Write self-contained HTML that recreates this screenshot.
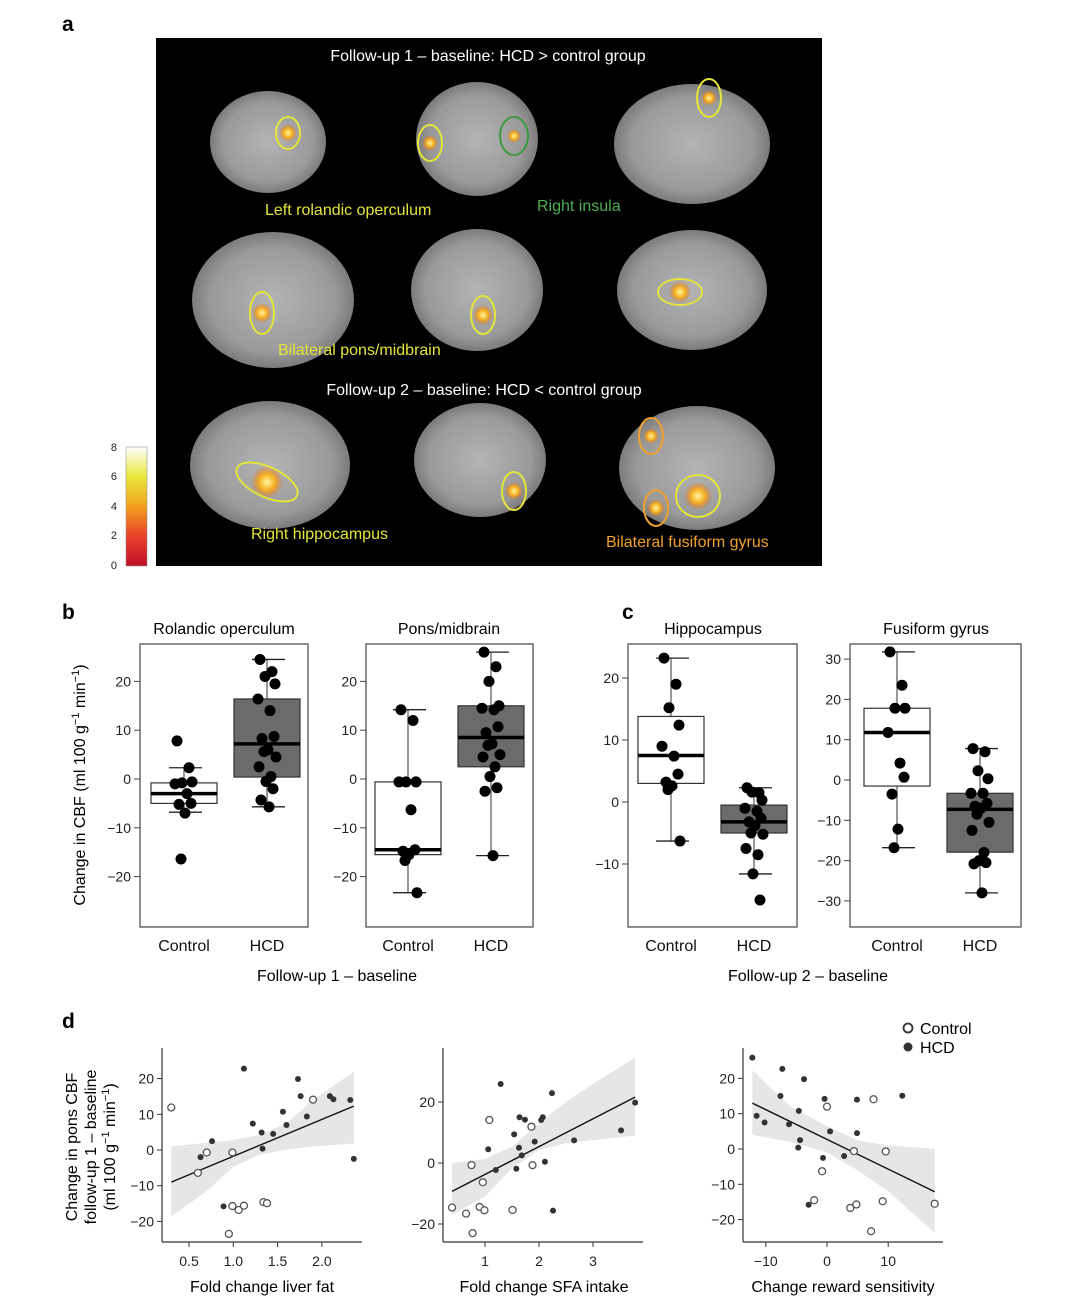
<!DOCTYPE html>
<html><head><meta charset="utf-8">
<style>
body{margin:0;background:#fff;}
svg{display:block;font-family:"Liberation Sans",Arial,sans-serif;}
</style></head>
<body>
<svg id="fig" width="1080" height="1310" viewBox="0 0 1080 1310" xmlns="http://www.w3.org/2000/svg">
<defs>
<radialGradient id="brainG" cx="50%" cy="50%" r="55%">
<stop offset="0" stop-color="#b4b4b4"/><stop offset="0.7" stop-color="#9a9a9a"/><stop offset="1" stop-color="#6e6e6e"/>
</radialGradient>
<radialGradient id="blob" cx="50%" cy="50%" r="50%">
<stop offset="0" stop-color="#fff6a0"/><stop offset="0.5" stop-color="#f6b020"/><stop offset="1" stop-color="#e86a10" stop-opacity="0"/>
</radialGradient>
<linearGradient id="cbar" x1="0" y1="0" x2="0" y2="1">
<stop offset="0" stop-color="#ffffff"/><stop offset="0.25" stop-color="#e8e83a"/><stop offset="0.5" stop-color="#f3a020"/><stop offset="0.75" stop-color="#e8402a"/><stop offset="1" stop-color="#c0102a"/>
</linearGradient>
</defs>

<!-- panel labels -->
<text x="62" y="31" font-size="21" font-weight="bold">a</text>
<text x="62" y="619" font-size="21" font-weight="bold">b</text>
<text x="622" y="619" font-size="21" font-weight="bold">c</text>
<text x="62" y="1028" font-size="21" font-weight="bold">d</text>

<!-- panel a -->
<g>
<rect x="156" y="38" width="666" height="528" fill="#000"/>
<g fill="url(#brainG)">
<ellipse cx="268" cy="142" rx="58" ry="51"/>
<ellipse cx="477" cy="139" rx="61" ry="57"/>
<ellipse cx="692" cy="144" rx="78" ry="60"/>
<ellipse cx="273" cy="300" rx="81" ry="68"/>
<ellipse cx="477" cy="290" rx="66" ry="61"/>
<ellipse cx="692" cy="290" rx="75" ry="60"/>
<ellipse cx="270" cy="465" rx="80" ry="64"/>
<ellipse cx="480" cy="460" rx="66" ry="57"/>
<ellipse cx="697" cy="468" rx="78" ry="62"/>
</g>
<g fill="url(#blob)">
<circle cx="288" cy="133" r="9"/><circle cx="430" cy="143" r="8"/><circle cx="514" cy="136" r="7"/>
<circle cx="709" cy="98" r="8"/><circle cx="262" cy="313" r="10"/><circle cx="483" cy="315" r="10"/>
<circle cx="680" cy="292" r="11"/><circle cx="267" cy="482" r="16"/><circle cx="514" cy="491" r="9"/>
<circle cx="651" cy="436" r="8"/><circle cx="656" cy="508" r="9"/><circle cx="698" cy="496" r="14"/>
</g>
<g fill="none" stroke-width="2">
<ellipse cx="288" cy="133" rx="12" ry="16" stroke="#e4e43c"/>
<ellipse cx="430" cy="143" rx="12" ry="18" stroke="#e4e43c"/>
<ellipse cx="514" cy="136" rx="14" ry="19" stroke="#3c9a3c"/>
<ellipse cx="709" cy="98" rx="12" ry="19" stroke="#e4e43c"/>
<ellipse cx="262" cy="313" rx="12" ry="21" stroke="#e4e43c"/>
<ellipse cx="483" cy="315" rx="12" ry="19" stroke="#e4e43c"/>
<ellipse cx="680" cy="292" rx="22" ry="13" stroke="#e4e43c"/>
<ellipse cx="267" cy="482" rx="33" ry="15" transform="rotate(25 267 482)" stroke="#e4e43c"/>
<ellipse cx="514" cy="491" rx="12" ry="19" stroke="#e4e43c"/>
<ellipse cx="651" cy="436" rx="12" ry="18" stroke="#f0a030"/>
<ellipse cx="656" cy="508" rx="12" ry="18" stroke="#f0a030"/>
<ellipse cx="698" cy="496" rx="22" ry="21" stroke="#e4e43c"/>
</g>
<text x="488" y="61" font-size="16" fill="#fff" text-anchor="middle">Follow-up 1 – baseline: HCD &gt; control group</text>
<text x="265" y="215" font-size="16" fill="#e4e43c">Left rolandic operculum</text>
<text x="537" y="211" font-size="16" fill="#4caf50">Right insula</text>
<text x="278" y="355" font-size="16" fill="#e4e43c">Bilateral pons/midbrain</text>
<text x="484" y="395" font-size="16" fill="#fff" text-anchor="middle">Follow-up 2 – baseline: HCD &lt; control group</text>
<text x="251" y="539" font-size="16" fill="#e4e43c">Right hippocampus</text>
<text x="606" y="547" font-size="16" fill="#f0a030">Bilateral fusiform gyrus</text>
</g>
<g>
<rect x="126" y="447" width="21" height="119" fill="url(#cbar)" stroke="#888" stroke-width="0.5"/>
<g font-size="11" fill="#222" text-anchor="end">
<text x="117" y="451">8</text><text x="117" y="480">6</text><text x="117" y="510">4</text><text x="117" y="539">2</text><text x="117" y="569">0</text>
</g>
</g>

<g id="boxes"></g>
<g id="scatters"></g>

<!-- text labels for b/c -->
<text x="224" y="634" font-size="16" text-anchor="middle">Rolandic operculum</text>
<text x="449" y="634" font-size="16" text-anchor="middle">Pons/midbrain</text>
<text x="713" y="634" font-size="16" text-anchor="middle">Hippocampus</text>
<text x="936" y="634" font-size="16" text-anchor="middle">Fusiform gyrus</text>
<text transform="translate(85 785) rotate(-90)" font-size="16" text-anchor="middle">Change in CBF (ml 100 g<tspan font-size="11" dy="-6">−1</tspan><tspan dy="6"> min</tspan><tspan font-size="11" dy="-6">−1</tspan><tspan dy="6">)</tspan></text>
<text x="337" y="981" font-size="16" text-anchor="middle">Follow-up 1 – baseline</text>
<text x="808" y="981" font-size="16" text-anchor="middle">Follow-up 2 – baseline</text>

<!-- panel d labels -->
<g font-size="16" text-anchor="middle">
<text transform="translate(77 1147) rotate(-90)">Change in pons CBF</text>
<text transform="translate(96 1147) rotate(-90)">follow-up 1 – baseline</text>
<text transform="translate(115 1147) rotate(-90)">(ml 100 g<tspan font-size="11" dy="-6">−1</tspan><tspan dy="6"> min</tspan><tspan font-size="11" dy="-6">−1</tspan><tspan dy="6">)</tspan></text>
</g>
<text x="262" y="1292" font-size="16" text-anchor="middle">Fold change liver fat</text>
<text x="544" y="1292" font-size="16" text-anchor="middle">Fold change SFA intake</text>
<text x="843" y="1292" font-size="16" text-anchor="middle">Change reward sensitivity</text>
<g>
<circle cx="908" cy="1028" r="4.5" fill="#fff" stroke="#333" stroke-width="1.8"/>
<text x="920" y="1034" font-size="16">Control</text>
<circle cx="908" cy="1047" r="4.5" fill="#333"/>
<text x="920" y="1053" font-size="16">HCD</text>
</g>
</svg>

<script>
// ---------- box plot data ----------
const boxCategories = ["Control", "HCD"];
const rolCtrlPts = [7.8, 2.3, -0.8, -0.6, -1.0, -3.0, -5.0, -5.2, -7.0, -16.4];
const rolHcdPts = [24.5, 22, 21, 19.5, 16.4, 14, 8.7, 8.3, 6, 5.6, 4.5, 2.5, 0.5, -0.5, -2, -4.3, -5.7];
const rolCtrlStats = [-6.8, -5.0, -3.0, -0.8, 2.3];
const rolHcdStats = [-5.7, 0.4, 7.2, 16.4, 24.5];
const ponsCtrlPts = [14.2, 12, -0.6, -0.6, -0.6, -6.3, -14.5, -14.8, -15.5, -16.7, -23.3];
const ponsHcdPts = [26, 23, 20, 15, 14.5, 14.2, 10.7, 9.5, 7.2, 6.9, 5, 4.5, 2.5, 0.5, -1.8, -2.5, -15.7];
const ponsCtrlStats = [-23.3, -15.5, -14.5, -0.6, 14.2];
const ponsHcdStats = [-15.7, 2.5, 8.5, 15, 26];
const hipCtrlPts = [23.2, 19, 15.2, 12.4, 9, 7.4, 4.5, 3.2, 2.6, 2, -6.3];
const hipHcdPts = [2.3, 1.5, 1.6, 0.3, -1, -1.5, -2.6, -3.2, -3.8, -5, -5.2, -7.5, -8.5, -11.6, -15.8];
const hipCtrlStats = [-6.3, 3.0, 7.5, 13.8, 23.2];
const hipHcdStats = [-11.6, -5.0, -3.2, -0.5, 2.3];
const fusCtrlPts = [31.8, 23.5, 17.8, 17.8, 11.8, 4.2, 0.7, -3.5, -12.2, -16.8];
const fusHcdPts = [7.8, 7, 2.3, 0.3, -3.3, -3.3, -5.8, -6.5, -7, -8.5, -10.5, -12.5, -18, -20, -20.5, -20.8, -28];
const fusCtrlStats = [-16.8, -1.5, 11.8, 17.8, 31.8];
const fusHcdStats = [-28, -17.9, -7.3, -3.3, 7.8];
const ticksB = [-20, -10, 0, 10, 20];
const ticksHip = [-10, 0, 10, 20];
const ticksFus = [-30, -20, -10, 0, 10, 20, 30];

// ---------- scatter data ----------
const liverX = [0.30,0.63,0.70,0.76,0.60,0.99,1.12,1.22,1.32,1.33,1.45,1.56,1.60,1.73,1.76,1.83,1.90,2.09,2.13,2.32,2.36,0.89,0.99,1.06,1.12,1.34,1.38,0.95];
const liverY = [11.9,-2,-0.7,2.5,-6.4,-0.7,22.8,7.4,4.9,0.4,4.5,10.7,7,19.9,15.1,9.4,14.1,15.1,14.2,14,-2.5,-15.8,-15.7,-16.8,-15.6,-14.6,-14.9,-23.5];
const liverGrp = [0,1,0,1,0,0,1,1,1,1,1,1,1,1,1,1,0,1,1,1,1,1,0,0,0,0,0,0];
const liverFit = [0.30, -9, 2.36, 12.3];
const liverBandX = [0.30, 0.7, 1.0, 1.3, 1.6, 1.9, 2.36];
const liverBandLo = [-18.6, -11.5, -4.7, -1.3, 0.1, 1.0, 1.8];
const liverBandHi = [1.0, 2.0, 2.8, 4.2, 7.5, 14, 21.9];

const sfaX = [0.39,0.65,0.77,0.90,0.99,0.75,0.96,1.08,1.06,1.20,1.29,1.54,1.58,1.63,1.64,1.74,1.68,1.51,1.86,1.88,1.92,2.04,2.07,2.11,2.24,2.26,2.65,3.52,3.78];
const sfaY = [-14.6,-16.6,-23,-14.4,-15.5,-0.7,-6.3,14.1,4.5,-2.3,25.9,9.4,-1.9,5,15,14.2,2.5,-15.4,11.9,-0.7,7,14.1,15,0.4,22.9,-15.6,7.4,10.7,19.8];
const sfaGrp = [0,0,0,0,0,0,0,0,1,1,1,1,1,1,1,1,1,0,0,0,1,1,1,1,1,1,1,1,1];
const sfaFit = [0.39, -9.3, 3.78, 21.6];
const sfaBandX = [0.39, 1.0, 1.5, 2.0, 2.5, 3.0, 3.78];
const sfaBandLo = [-17, -11, -1.7, 4.3, 6.5, 7.5, 9];
const sfaBandHi = [0, 1.3, 5.3, 13, 20, 26, 34.5];

const rewX = [-12.2,-11.5,-10.2,-7.3,-7.6,-6.2,-3.75,-4.6,-4.4,-4.7,-0.65,-0.4,0,0.5,-0.8,2.8,4.4,4.9,4.9,7.6,12.3,9.6,-3.0,-2.1,3.8,4.8,9.1,7.2,17.6];
const rewY = [25.9,9.4,7.5,22.7,15,7,19.8,10.8,2.5,0.4,-2.5,14.2,12,5,-6.3,-2,-0.6,14,4.5,14.1,15.1,-0.7,-15.8,-14.5,-16.7,-15.7,-14.8,-23.3,-15.5];
const rewGrp = [1,1,1,1,1,1,1,1,1,1,1,1,0,1,0,1,0,1,1,0,1,0,1,0,0,0,0,0,0];
const rewFit = [-12.2, 13, 17.6, -12.1];
const rewBandX = [-12.2, -6, 0, 5, 10, 17.6];
const rewBandLo = [4, 2, -1, -6, -12, -23.7];
const rewBandHi = [22.3, 12, 6.5, 2.5, 1, 0];

const liverTicksX = [0.5, 1.0, 1.5, 2.0];
const liverTickLbl = ["0.5", "1.0", "1.5", "2.0"];
const sfaTicksX = [1, 2, 3];
const rewTicksX = [-10, 0, 10];
const ticksD = [-20, -10, 0, 10, 20];
const ticksD2 = [-20, 0, 20];

// ---------- helpers ----------
const NS = "http://www.w3.org/2000/svg";
function mk(tag, attrs, parent) {
  const el = document.createElementNS(NS, tag);
  for (const k in attrs) el.setAttribute(k, attrs[k]);
  parent.appendChild(el);
  return el;
}
const jit = [-7, 5, -2, 8, -9, 3, 7, -5, 1, -3, 9, -8, 4, -1, 6, -6, 2];

function boxPanel(name, fr, zeroY, pxPerUnit, ticks, ctrlStats, ctrlPts, hcdStats, hcdPts, cx) {
  const g = mk("g", {}, document.getElementById("boxes"));
  
  
  const y = v => zeroY - v * pxPerUnit;
  const frame = mk("rect", {x: fr[0], y: fr[1], width: fr[2] - fr[0], height: fr[3] - fr[1], fill: "none", stroke: "#444", "stroke-width": 1.2}, g);
  
  
  ticks.forEach(t => {
    mk("line", {x1: fr[0] - 6, x2: fr[0], y1: y(t), y2: y(t), stroke: "#444"}, g);
    const tx = mk("text", {x: fr[0] - 9, y: y(t) + 5, "font-size": 14, "text-anchor": "end", fill: "#222"}, g);
    tx.textContent = t === 0 ? "0" : (t < 0 ? "−" + Math.abs(t) : String(t));
    
    
  });
  [[ctrlStats, ctrlPts, "#fff"], [hcdStats, hcdPts, "#6b6b6b"]].forEach((d, i) => {
    const c = cx[i], s = d[0];
    const wl = mk("line", {x1: c, x2: c, y1: y(s[0]), y2: y(s[4]), stroke: "#555", "stroke-width": 1.2}, g);
    
    
    mk("line", {x1: c - 15, x2: c + 18, y1: y(s[0]), y2: y(s[0]), stroke: "#222", "stroke-width": 1.3}, g);
    mk("line", {x1: c - 15, x2: c + 18, y1: y(s[4]), y2: y(s[4]), stroke: "#222", "stroke-width": 1.3}, g);
    const b = mk("rect", {x: c - 33, y: y(s[3]), width: 66, height: y(s[1]) - y(s[3]), fill: d[2], stroke: "#333", "stroke-width": 1.2}, g);
    
    
    const m = mk("line", {x1: c - 33, x2: c + 33, y1: y(s[2]), y2: y(s[2]), stroke: "#000", "stroke-width": 3.5}, g);
    
    
    d[1].forEach((v, k) => {
      const p = mk("circle", {cx: c + jit[k % jit.length], cy: y(v), r: 5.5, fill: "#000"}, g);
      
      
    });
    const lab = mk("text", {x: c, y: 951, "font-size": 16, "text-anchor": "middle", fill: "#111"}, g);
    lab.textContent = boxCategories[i];
    
    
  });
}

boxPanel("box-rolandic", [140, 644, 308, 927], 779, 4.88, ticksB, rolCtrlStats, rolCtrlPts, rolHcdStats, rolHcdPts, [184, 267]);
boxPanel("box-pons", [366, 644, 533, 927], 779, 4.88, ticksB, ponsCtrlStats, ponsCtrlPts, ponsHcdStats, ponsHcdPts, [408, 491]);
boxPanel("box-hippocampus", [628, 644, 797, 927], 802, 6.2, ticksHip, hipCtrlStats, hipCtrlPts, hipHcdStats, hipHcdPts, [671, 754]);
boxPanel("box-fusiform", [850, 644, 1021, 927], 780, 4.03, ticksFus, fusCtrlStats, fusCtrlPts, fusHcdStats, fusHcdPts, [897, 980]);

function scatter(name, ax, xs, ys, grp, fit, bx, blo, bhi, xt, xtl, yt) {
  const g = mk("g", {}, document.getElementById("scatters"));
  
  
  const X = v => ax.x0 + (v - ax.v0) * ax.kx;
  const Y = v => ax.y0 - v * ax.ky;
  let d = "";
  bx.forEach((v, i) => { d += (i ? "L" : "M") + X(v).toFixed(1) + " " + Y(bhi[i]).toFixed(1); });
  for (let i = bx.length - 1; i >= 0; i--) d += "L" + X(bx[i]).toFixed(1) + " " + Y(blo[i]).toFixed(1);
  const band = mk("path", {d: d + "Z", fill: "#e6e6e6"}, g);
  
  
  const fl = mk("line", {x1: X(fit[0]), y1: Y(fit[1]), x2: X(fit[2]), y2: Y(fit[3]), stroke: "#111", "stroke-width": 1.4}, g);
  
  
  xs.forEach((v, i) => {
    const p = grp[i]
      ? mk("circle", {cx: X(v), cy: Y(ys[i]), r: 3, fill: "#333"}, g)
      : mk("circle", {cx: X(v), cy: Y(ys[i]), r: 3.5, fill: "#fff", stroke: "#555", "stroke-width": 1.3}, g);
    
    
  });
  const ya = mk("line", {x1: ax.left, x2: ax.left, y1: 1048, y2: 1242, stroke: "#333", "stroke-width": 1.2}, g);
  
  
  const xa = mk("line", {x1: ax.left, x2: ax.right, y1: 1242, y2: 1242, stroke: "#333", "stroke-width": 1.2}, g);
  
  
  yt.forEach(t => {
    mk("line", {x1: ax.left - 5, x2: ax.left, y1: Y(t), y2: Y(t), stroke: "#333"}, g);
    const tx = mk("text", {x: ax.left - 8, y: Y(t) + 5, "font-size": 14, "text-anchor": "end", fill: "#222"}, g);
    tx.textContent = t === 0 ? "0" : (t < 0 ? "−" + Math.abs(t) : String(t));
    
    
  });
  xt.forEach((t, i) => {
    mk("line", {x1: X(t), x2: X(t), y1: 1242, y2: 1247, stroke: "#333"}, g);
    const tx = mk("text", {x: X(t), y: 1266, "font-size": 14, "text-anchor": "middle", fill: "#222"}, g);
    tx.textContent = xtl ? xtl[i] : (t < 0 ? "−" + Math.abs(t) : String(t));
    
    
  });
}

scatter("scatter-liver-fat", {x0: 189, v0: 0.5, kx: 88.6, y0: 1150, ky: 3.57, left: 162, right: 362},
  liverX, liverY, liverGrp, liverFit, liverBandX, liverBandLo, liverBandHi, liverTicksX, liverTickLbl, ticksD);
scatter("scatter-sfa-intake", {x0: 485, v0: 1, kx: 54, y0: 1163, ky: 3.05, left: 443, right: 643},
  sfaX, sfaY, sfaGrp, sfaFit, sfaBandX, sfaBandLo, sfaBandHi, sfaTicksX, null, ticksD2);
scatter("scatter-reward", {x0: 827, v0: 0, kx: 6.12, y0: 1149, ky: 3.53, left: 743, right: 943},
  rewX, rewY, rewGrp, rewFit, rewBandX, rewBandLo, rewBandHi, rewTicksX, null, ticksD);
</script>
</body></html>
